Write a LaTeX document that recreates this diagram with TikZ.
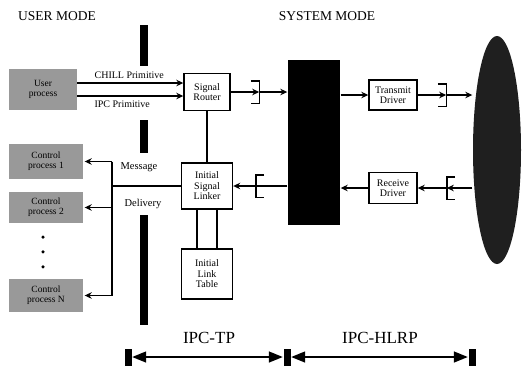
\documentclass[tikz,border=0pt]{standalone}
\usepackage{fontspec}
\setmainfont{Liberation Serif}
\usetikzlibrary{arrows.meta,positioning,shapes.geometric}
\tikzset{every picture/.style={line width=1.4pt}}
\tikzset{
    arr/.style={-{Stealth[length=7pt,width=6.5pt]}},
    dim/.style={{Triangle[length=14pt,width=11pt]}-{Triangle[length=14pt,width=11pt]}},
    wbox/.style={draw,fill=white,align=center,inner sep=1pt,font=\fontsize{10}{10.5}\selectfont},
    gbox/.style={draw=black!40,fill=black!40,align=center,inner sep=1pt,
        minimum width=72pt,minimum height=32pt,font=\fontsize{9.5}{10}\selectfont},
    qbox/.style={inner sep=0pt,minimum width=7pt,minimum height=21pt},
    tick/.style={fill,inner sep=0pt,minimum width=7pt,minimum height=17pt},
    dot/.style={circle,fill,inner sep=0pt,minimum size=3.5pt},
}

\begin{document}
\begin{tikzpicture}[x=1pt,y=-1pt]
    \useasboundingbox (0,0) rectangle (522,368);
    % titles
    \node[font=\fontsize{13.5}{13.5}\selectfont] (um) at (57,16) {USER MODE};
    \node[font=\fontsize{13.5}{13.5}\selectfont] (sm) at (327,16) {SYSTEM MODE};
    % mode separator
    \fill (140,25) rectangle (148,66);
    \fill (140,120) rectangle (148,153);
    \fill (140,215) rectangle (148,325);
    % processes
    \node[gbox,minimum width=67pt,minimum height=40pt] (user) at (43,89.5) {User\\process};
    \node[gbox,minimum height=33pt] (ctl1) at (46,161.5) {Control\\process 1};
    \node[gbox,minimum height=30pt] (ctl2) at (46,207.5) {Control\\process 2};
    \node[gbox] (ctlN) at (46,295.5) {Control\\process N};
    \node[dot] (d1) at (43,237) {};
    \node[dot, below=10pt of d1] (d2) {};
    \node[dot, below=10pt of d2] (d3) {};
    % system blocks
    \node[wbox,minimum width=46pt,minimum height=37pt] (router) at (207,92) {Signal\\Router};
    \node[wbox,minimum width=51pt,minimum height=46pt] (linker) at (207,186) {Initial\\Signal\\Linker};
    \node[wbox,minimum width=51pt,minimum height=50pt] (table) at (207,274) {Initial\\Link\\Table};
    \node[fill,minimum width=52pt,minimum height=165pt,inner sep=0pt] (sys) at (314,142.5) {};
    \node[wbox,minimum width=48pt,minimum height=30pt] (tx) at (393,95) {Transmit\\Driver};
    \node[wbox,minimum width=48pt,minimum height=31pt] (rx) at (393,188) {Receive\\Driver};
    \node[ellipse,fill=black!88,minimum width=48pt,minimum height=228pt,inner sep=0pt] (net) at (497,150) {};
    % queues
    \node[qbox] (q1) at (255,92) {};
    \node[qbox] (q2) at (442,95) {};
    \node[qbox] (q3) at (451,188) {};
    \node[qbox] (q4) at (260,186) {};
    \draw (q1.north west) -- (q1.north east) -- (q1.south east) -- (q1.south west);
    \draw (q2.north west) -- (q2.north east) -- (q2.south east) -- (q2.south west);
    \draw (q3.north east) -- (q3.north west) -- (q3.south west) -- (q3.south east);
    \draw (q4.north east) -- (q4.north west) -- (q4.south west) -- (q4.south east);
    % primitives
    \coordinate (p1) at ([yshift=6.5pt]user.east);
    \coordinate (p2) at ([yshift=-6.5pt]user.east);
    \draw[arr] (p1) -- (p1 -| router.west);
    \draw[arr] (p2) -- (p2 -| router.west);
    \node[font=\fontsize{10}{10}\selectfont, above=0pt of p1, xshift=52pt] (chill) {CHILL Primitive};
    \node[font=\fontsize{10}{10}\selectfont, below=1pt of p2, xshift=45pt] (ipc) {IPC Primitive};
    % transmit path
    \draw[arr] (router.east) -- (q1.east);
    \draw[arr] (q1.east) -- (q1.east -| sys.west);
    \draw[arr] (tx.west -| sys.east) -- (tx.west);
    \draw[arr] (tx.east) -- (q2.east);
    \draw[arr] (q2.east) -- (q2.east -| net.west);
    % receive path
    \draw[arr] (q3.west -| net.west) -- (q3.west);
    \draw[arr] (q3.west) -- (rx.east);
    \draw[arr] (rx.west) -- (rx.west -| sys.east);
    \draw (sys.west |- q4.west) -- (q4.west);
    \draw[arr] (q4.west) -- (linker.east);
    \draw (router.south) -- (linker.north);
    \draw ([xshift=-10pt]linker.south) -- ([xshift=-10pt]table.north);
    \draw ([xshift=10pt]linker.south) -- ([xshift=10pt]table.north);
    % message delivery
    \coordinate (bus) at (112,186);
    \draw (linker.west) -- (bus);
    \draw (bus |- ctl1.east) -- (bus |- ctlN.east);
    \draw[arr] (bus |- ctl1.east) -- ([xshift=2pt]ctl1.east);
    \draw[arr] (bus |- ctl2.east) -- ([xshift=2pt]ctl2.east);
    \draw[arr] (bus |- ctlN.east) -- ([xshift=2pt]ctlN.east);
    \node[font=\fontsize{10.5}{10.5}\selectfont] (msg) at (139,167) {Message};
    \node[font=\fontsize{10.5}{10.5}\selectfont] (dlv) at (143,204) {Delivery};
    % protocol extents
    \node[tick] (t1) at (128,357) {};
    \node[tick] (t2) at (287,357) {};
    \node[tick] (t3) at (472,357) {};
    \draw[dim] (t1.east) -- (t2.west);
    \draw[dim] (t2.east) -- (t3.west);
    \node[font=\fontsize{17}{17}\selectfont] (tp) at (209,338) {IPC-TP};
    \node[font=\fontsize{17}{17}\selectfont] (hlrp) at (380,338) {IPC-HLRP};
\end{tikzpicture}
\end{document}
